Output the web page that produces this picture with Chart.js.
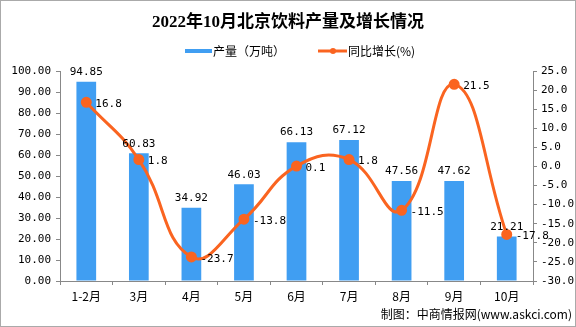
<!DOCTYPE html>
<html>
<head>
<meta charset="utf-8">
<script src="https://cdn.jsdelivr.net/npm/chart.js@4"></script>
<style>
  html, body { margin: 0; padding: 0; background: #fff; }
  #wrap { position: relative; width: 576px; height: 327px; box-sizing: border-box; border: 1px solid #aaa; }
  canvas { display: block; }
</style>
</head>
<body>
<div id="wrap"><canvas id="chart" width="574" height="325"></canvas></div>
<script>
// 数据
const months = ['1-2月', '3月', '4月', '5月', '6月', '7月', '8月', '9月', '10月'];
const output = [94.85, 60.83, 34.92, 46.03, 66.13, 67.12, 47.56, 47.62, 21.21];
const growth = [16.8, 1.8, -23.7, -13.8, 0.1, 1.8, -11.5, 21.5, -17.8];
const leftTicks = [0, 100, 10];
const rightTicks = [-30, 25, 5];

const barColor = '#409EF2';
const lineColor = '#FA6420';
const monoFont = '"DejaVu Sans Mono", monospace';
const cjkFont = '"Noto Sans CJK SC", sans-serif';

// 标题、图例、数据标签、来源
const extras = {
  id: 'extras',
  afterDraw(chart) {
    const c = chart.ctx;
    c.save();
    c.fillStyle = '#000';
    c.textBaseline = 'middle';
    c.textAlign = 'center';
    c.font = 'bold 17px "Liberation Serif", "Noto Sans CJK SC", serif';
    c.fillText('2022年10月北京饮料产量及增长情况', 287, 22);

    // 图例
    c.fillStyle = barColor;
    c.fillRect(184, 48, 27, 4);
    c.fillStyle = '#000';
    c.textAlign = 'left';
    c.font = '12px ' + cjkFont;
    c.fillText('产量（万吨）', 212, 50);
    c.strokeStyle = lineColor;
    c.lineWidth = 3;
    c.beginPath(); c.moveTo(317, 50); c.lineTo(346, 50); c.stroke();
    c.fillStyle = lineColor;
    c.beginPath(); c.arc(332, 50, 3, 0, Math.PI * 2); c.fill();
    c.fillStyle = '#000';
    c.fillText('同比增长(%)', 347, 50);

    // 柱子数值
    c.font = '11px ' + monoFont;
    c.textAlign = 'center';
    c.textBaseline = 'bottom';
    chart.getDatasetMeta(1).data.forEach((bar, i) => {
      c.fillText(output[i].toFixed(2), bar.x, bar.y - 4);
    });
    // 折线数值
    c.textAlign = 'left';
    c.textBaseline = 'middle';
    chart.getDatasetMeta(0).data.forEach((pt, i) => {
      c.fillText(String(growth[i]), pt.x + 9, pt.y + 2);
    });

    c.font = '12px ' + cjkFont;
    c.textAlign = 'right';
    c.fillText('制图：中商情报网(www.askci.com)', 571, 313);
    c.restore();
  }
};

const axisColor = '#888';

new Chart(document.getElementById('chart'), {
  data: {
    labels: months,
    datasets: [
      {
        type: 'line',
        label: '同比增长(%)',
        data: growth,
        yAxisID: 'y1',
        borderColor: lineColor,
        backgroundColor: lineColor,
        borderWidth: 3,
        pointRadius: 4,
        pointHoverRadius: 4,
        tension: 0.45,
        order: 0
      },
      {
        type: 'bar',
        label: '产量（万吨）',
        data: output,
        yAxisID: 'y',
        backgroundColor: barColor,
        barPercentage: 0.75,
        categoryPercentage: 0.5,
        order: 1
      }
    ]
  },
  options: {
    responsive: false,
    animation: false,
    layout: { padding: { top: 70, left: 0, right: 0, bottom: 0 } },
    plugins: { legend: { display: false }, title: { display: false }, tooltip: { enabled: false } },
    scales: {
      x: {
        grid: { drawOnChartArea: false, tickLength: 4, color: axisColor, offset: true },
        border: { color: axisColor },
        ticks: { color: '#000', font: { family: cjkFont, size: 12 }, padding: 4, maxRotation: 0 },
        afterFit(s) { s.height = 45; }
      },
      y: {
        position: 'left',
        min: leftTicks[0], max: leftTicks[1],
        grid: { drawOnChartArea: false, tickLength: 4, color: axisColor },
        border: { color: axisColor },
        ticks: { stepSize: leftTicks[2], color: '#000', font: { family: monoFont, size: 11 }, padding: 5,
                 callback: v => v.toFixed(2) },
        afterFit(s) { s.width = 59; }
      },
      y1: {
        position: 'right',
        min: rightTicks[0], max: rightTicks[1],
        grid: { drawOnChartArea: false, tickLength: 4, color: axisColor },
        border: { color: axisColor },
        ticks: { stepSize: rightTicks[2], color: '#000', font: { family: monoFont, size: 11 }, padding: 4,
                 callback: v => v.toFixed(1) },
        afterFit(s) { s.width = 42; }
      }
    }
  },
  plugins: [extras]
});
</script>
</body>
</html>
